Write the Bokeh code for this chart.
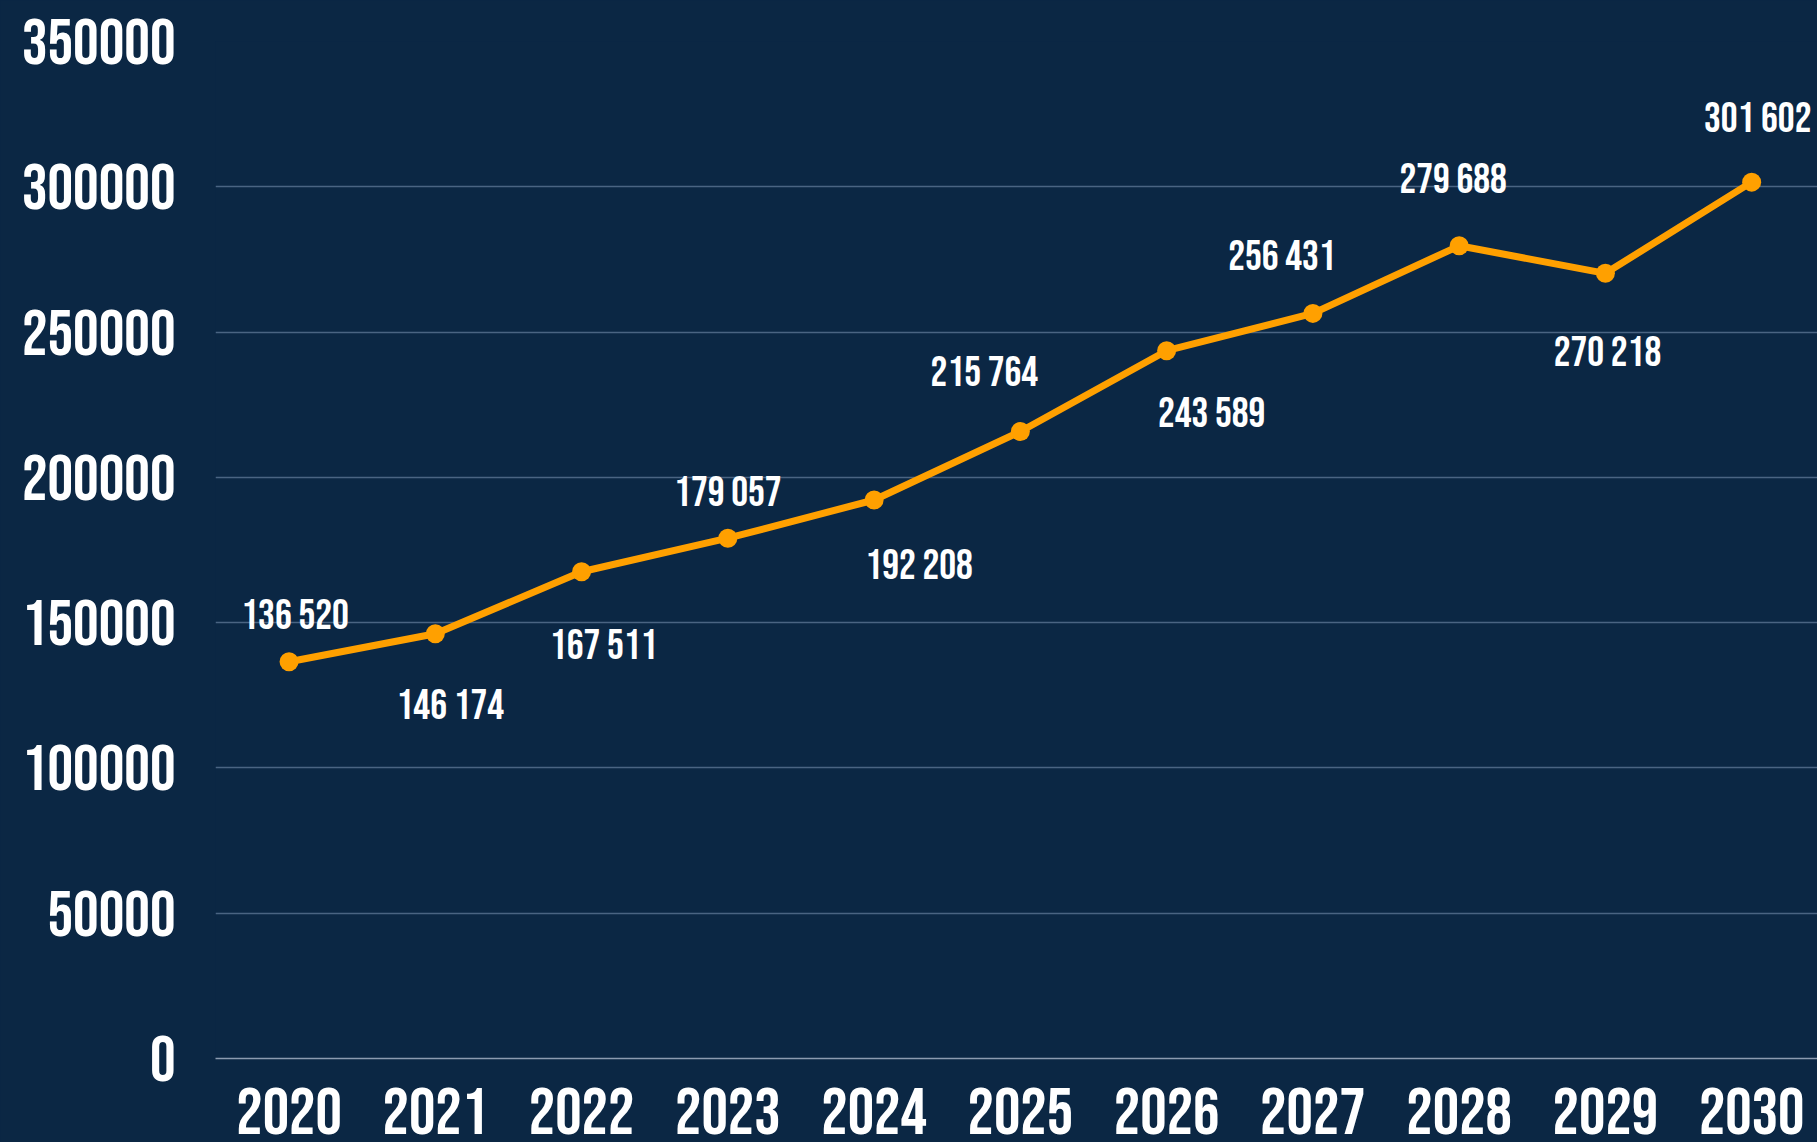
from bokeh.plotting import figure
from bokeh.models import ColumnDataSource, FixedTicker, BasicTickFormatter, Range1d
from bokeh.core.properties import value
from bokeh.embed import file_html
from bokeh.resources import INLINE

years = [2020, 2021, 2022, 2023, 2024, 2025, 2026, 2027, 2028, 2029, 2030]
values = [136520, 146174, 167511, 179057, 192208, 215764, 243589, 256431, 279688, 270218, 301602]
labels = ["136 520", "146 174", "167 511", "179 057", "192 208", "215 764",
          "243 589", "256 431", "279 688", "270 218", "301 602"]
y_ticks = [0, 50000, 100000, 150000, 200000, 250000, 300000, 350000]

# label placement (pixels), styling only
label_dx = [6, 15, 22, 0, 45, -36, 45, -31, -6, 2, 6]
label_dy = [-45, 73, 75, -45, 67, -58, 64, -56, -65, 80, -63]

FONT = "Bebas Neue"
BG = "#0b2744"
ORANGE = "#ffa000"

src = ColumnDataSource(dict(x=years, y=values, lab=labels, dx=label_dx, dy=label_dy))

p = figure(width=1817, height=1142, output_backend="svg", toolbar_location=None,
           x_range=Range1d(2019.497, 2030.45), y_range=Range1d(0, 350000),
           min_border_left=215, min_border_right=0, min_border_top=41, min_border_bottom=84)
p.background_fill_color = BG
p.border_fill_color = BG
p.outline_line_color = None

p.line("x", "y", source=src, line_color=ORANGE, line_width=7)
p.scatter("x", "y", source=src, size=19, fill_color=ORANGE, line_color=None)
p.text("x", "y", text="lab", source=src, x_offset="dx", y_offset="dy",
       text_align="center", text_baseline="middle", text_color="white",
       text_font=value(FONT), text_font_size="42px")

p.xaxis.ticker = FixedTicker(ticks=years)
p.yaxis.ticker = FixedTicker(ticks=y_ticks)
p.yaxis.formatter = BasicTickFormatter(use_scientific=False)

for ax in (p.xaxis, p.yaxis):
    ax.major_tick_line_color = None
    ax.minor_tick_line_color = None
    ax.major_label_text_color = "white"
    ax.major_label_text_font = FONT
p.xaxis.major_label_text_font_size = "66px"
p.yaxis.major_label_text_font_size = "64px"
p.xaxis.axis_line_color = "#8c9bb0"
p.xaxis.axis_line_width = 1.5
p.yaxis.axis_line_color = None
p.xaxis.major_label_standoff = 23
p.yaxis.major_label_standoff = 34

p.xgrid.grid_line_color = None
p.ygrid.grid_line_color = "#4a6482"
p.ygrid.grid_line_width = 1.5

html = file_html(p, INLINE)
html = html.replace("</head>", "<style>html, body { background-color: %s; }</style></head>" % BG, 1)
open("out.html", "w").write(html)
